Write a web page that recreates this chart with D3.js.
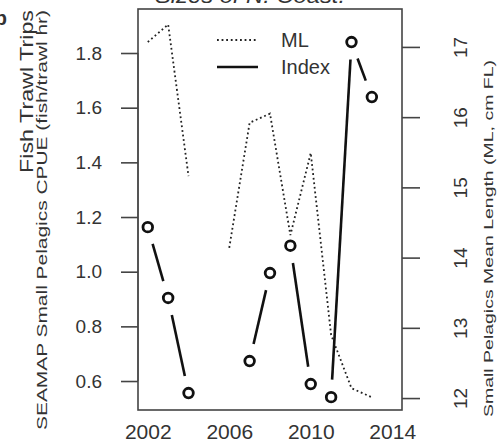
<!DOCTYPE html>
<html><head><meta charset="utf-8">
<script src="https://cdn.jsdelivr.net/npm/d3@7"></script>
<style>
html,body{margin:0;padding:0;background:#fff;}
svg text{font-family:"Liberation Sans",Arial,Helvetica,sans-serif;fill:#333;}
</style></head>
<body>
<svg id="chart" width="501" height="445"></svg>
<script>
const years = [2002,2003,2004,2005,2006,2007,2008,2009,2010,2011,2012,2013];
const indexValues = [1.163,0.904,0.556,null,null,0.673,0.995,1.095,0.589,0.541,1.840,1.639];
const mlValues = [17.07,17.32,15.16,null,14.14,15.92,16.05,14.32,15.49,12.90,12.14,12.01];
const xTicks = [2002,2006,2010,2014];
const leftTicks = [0.6,0.8,1.0,1.2,1.4,1.6,1.8];
const rightTicks = [12,13,14,15,16,17];
const legendLabels = ["ML","Index"];
const titleText = "Sizes of N. Coast.";
const leftLabel1 = "Fish Trawl Trips";
const leftLabel2 = "SEAMAP Small Pelagics CPUE (fish/trawl hr)";
const rightLabel = "Small Pelagics Mean Length (ML, cm FL)";

const svg = d3.select("#chart");
const L=138,R=402,T=9,B=410;
const x = d3.scaleLinear().domain([2001.52,2014.48]).range([L,R]);
const yL = d3.scaleLinear().domain([0.494,1.961]).range([B,T]);
const yR = d3.scaleLinear().domain([11.83,17.54]).range([B,T]);
const ink="#333";

// title (cut off at top, as in the reference)
svg.append("text").attr("x",155).attr("y",3).attr("font-style","italic")
  .attr("font-size",20).attr("textLength",190).attr("lengthAdjust","spacingAndGlyphs")
  .text(titleText);
// panel letter (cut off)
svg.append("text").attr("x",7).attr("y",25).attr("text-anchor","end")
  .attr("font-size",20).attr("font-weight","bold").text("b");

// ML dotted line
const mlData = years.map((y,i)=>({y,v:mlValues[i]}));
svg.append("path").datum(mlData)
  .attr("d", d3.line().defined(d=>d.v!=null).x(d=>x(d.y)).y(d=>yR(d.v)))
  .attr("fill","none").attr("stroke","#222").attr("stroke-width",1.8)
  .attr("stroke-dasharray","1.8,2.8");

// Index: type "b" (points with gapped segments)
const idx = years.map((y,i)=>({y,v:indexValues[i],px:x(y),py:indexValues[i]==null?null:yL(indexValues[i])}));
const gap=17.5;
for(let i=0;i<idx.length-1;i++){
  const a=idx[i], b=idx[i+1];
  if(a.v==null||b.v==null) continue;
  const dx=b.px-a.px, dy=b.py-a.py, len=Math.hypot(dx,dy);
  if(len<=2*gap) continue;
  const ux=dx/len, uy=dy/len;
  svg.append("line").attr("x1",a.px+ux*gap).attr("y1",a.py+uy*gap)
    .attr("x2",b.px-ux*gap).attr("y2",b.py-uy*gap)
    .attr("stroke","#111").attr("stroke-width",2.6);
}
svg.selectAll("circle.pt").data(idx.filter(d=>d.v!=null)).join("circle")
  .attr("class","pt").attr("cx",d=>d.px).attr("cy",d=>d.py).attr("r",4.8)
  .attr("fill","none").attr("stroke","#111").attr("stroke-width",2.8);

// box
svg.append("rect").attr("x",L).attr("y",T).attr("width",R-L).attr("height",B-T)
  .attr("fill","none").attr("stroke","#444").attr("stroke-width",1.6);

// left axis
const gL = svg.append("g").attr("transform",`translate(${L},0)`)
  .call(d3.axisLeft(yL).tickValues(leftTicks).tickFormat(d3.format(".1f")).tickSize(17).tickPadding(19));
gL.select(".domain").attr("d",`M0,${yL(0.6)}V${yL(1.8)}`).attr("stroke","#555").attr("stroke-width",2);
gL.selectAll(".tick line").attr("stroke","#444").attr("stroke-width",1.6);
gL.selectAll(".tick text").attr("font-size",19).attr("fill",ink)
  .attr("font-family","Liberation Sans, Arial, sans-serif");

// right axis
const gR = svg.append("g").attr("transform",`translate(${R},0)`)
  .call(d3.axisRight(yR).tickValues(rightTicks).tickFormat(d3.format("d")).tickSize(18));
gR.select(".domain").remove();
gR.selectAll(".tick line").attr("stroke","#444").attr("stroke-width",1.6);
gR.selectAll(".tick text").attr("x",0).attr("y",0).attr("dy","0.35em")
  .attr("transform","translate(58,0) rotate(-90)").attr("text-anchor","middle")
  .attr("font-size",19).attr("fill",ink).attr("font-family","Liberation Sans, Arial, sans-serif");

// bottom axis (no tick marks)
const gB = svg.append("g").attr("transform",`translate(0,${B})`)
  .call(d3.axisBottom(x).tickValues(xTicks).tickFormat(d3.format("d")).tickSize(0).tickPadding(14));
gB.select(".domain").remove();
gB.selectAll(".tick text").attr("font-size",21).attr("fill",ink)
  .attr("font-family","Liberation Sans, Arial, sans-serif");

// axis titles
svg.append("text").attr("transform","translate(33,173) rotate(-90)")
  .attr("font-size",18).attr("textLength",163).attr("lengthAdjust","spacingAndGlyphs")
  .text(leftLabel1);
svg.append("text").attr("transform","translate(47,430) rotate(-90)")
  .attr("font-size",14).attr("textLength",420).attr("lengthAdjust","spacingAndGlyphs")
  .attr("fill","#444").text(leftLabel2);
svg.append("text").attr("transform","translate(493,417) rotate(-90)")
  .attr("font-size",13).attr("textLength",357).attr("lengthAdjust","spacingAndGlyphs")
  .attr("fill","#444").text(rightLabel);

// legend
const legY=[40,67];
svg.append("line").attr("x1",217).attr("x2",258).attr("y1",legY[0]).attr("y2",legY[0])
  .attr("stroke","#222").attr("stroke-width",1.8).attr("stroke-dasharray","1.8,2.8");
svg.append("line").attr("x1",217).attr("x2",258).attr("y1",legY[1]).attr("y2",legY[1])
  .attr("stroke","#111").attr("stroke-width",2.4);
legendLabels.forEach((t,i)=>{
  svg.append("text").attr("x",281).attr("y",legY[i]).attr("dy","0.36em")
    .attr("font-size",20).text(t);
});
</script>
</body></html>
